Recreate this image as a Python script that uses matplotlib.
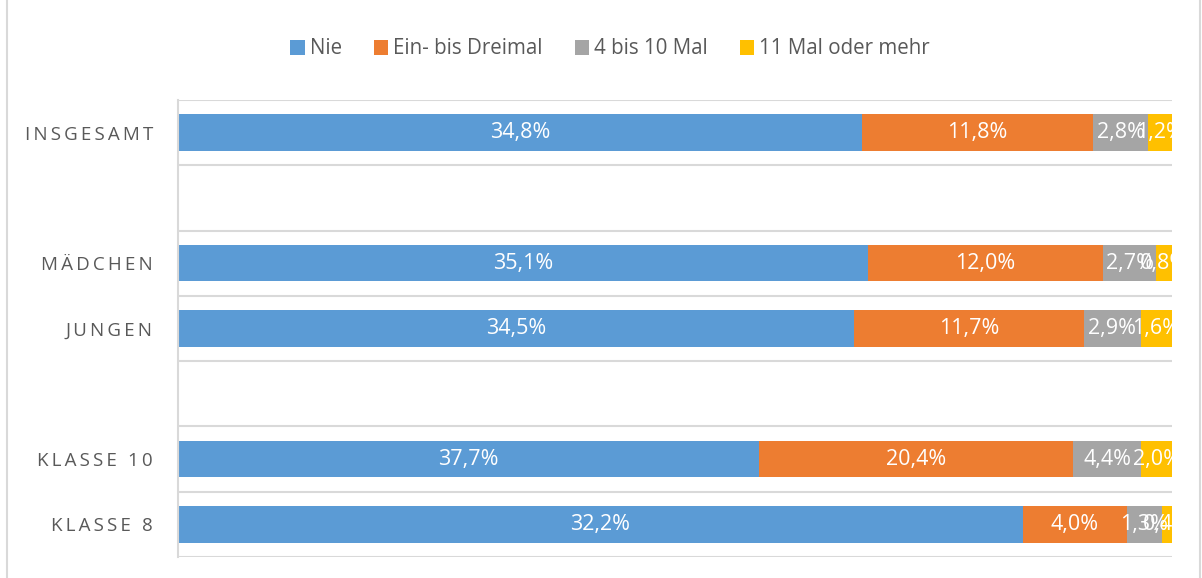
import numpy as np
import matplotlib
matplotlib.use("Agg")
import matplotlib.pyplot as plt
from matplotlib.patches import Patch
from matplotlib.lines import Line2D

categories = ["INSGESAMT", "", "MÄDCHEN", "JUNGEN", "", "KLASSE 10", "KLASSE 8"]
series_names = ["Nie", "Ein- bis Dreimal", "4 bis 10 Mal", "11 Mal oder mehr"]
nie = [34.8, np.nan, 35.1, 34.5, np.nan, 37.7, 32.2]
ein_bis_drei = [11.8, np.nan, 12.0, 11.7, np.nan, 20.4, 4.0]
vier_bis_zehn = [2.8, np.nan, 2.7, 2.9, np.nan, 4.4, 1.3]
elf_plus = [1.2, np.nan, 0.8, 1.6, np.nan, 2.0, 0.4]

colors = ["#5B9BD5", "#ED7D31", "#A5A5A5", "#FFC000"]
text_color = "#595959"
grid_color = "#D9D9D9"

plt.rcParams['font.family'] = ['Open Sans', 'DejaVu Sans']

W, H = 1202, 578
fig = plt.figure(figsize=(W / 100, H / 100), dpi=100)
ax = fig.add_axes([178 / W, 1 - 557 / H, (1172 - 178) / W, (557 - 100) / H])

data = np.array([nie, ein_bis_drei, vier_bis_zehn, elf_plus], dtype=float)
totals = np.nansum(data, axis=0)
y = np.arange(len(categories))
left = np.zeros(len(categories))
for i, (name, col) in enumerate(zip(series_names, colors)):
    vals = data[i]
    share = np.where(np.isnan(vals), 0, vals / np.where(totals == 0, 1, totals))
    ax.barh(y, share, left=left, height=0.56, color=col, label=name, zorder=2)
    for j in range(len(categories)):
        if not np.isnan(vals[j]):
            lbl = f"{vals[j]:.1f}%".replace(".", ",")
            ax.text(left[j] + share[j] / 2, y[j], lbl, ha="center", va="center",
                    color="white", fontsize=15.5, clip_on=True, zorder=3)
    left = left + share

ax.set_xlim(0, 1)
ax.set_ylim(len(categories) - 0.5, -0.5)
ax.set_xticks([])
ax.set_yticks(y)
spaced = ["\u2009".join(list(c)) for c in categories]
ax.set_yticklabels(spaced, color=text_color, fontsize=13.5)
ax.tick_params(axis="y", length=0, pad=18)
ax.set_yticks(np.arange(-0.5, len(categories), 1), minor=True)
ax.tick_params(axis="y", which="minor", length=0)
ax.grid(axis="y", which="minor", color=grid_color, linewidth=1.5, zorder=0)
for s in ["top", "right", "bottom"]:
    ax.spines[s].set_visible(False)
ax.spines["left"].set_color(grid_color)
ax.spines["left"].set_linewidth(1.5)

handles = [Patch(facecolor=c, edgecolor="none") for c in colors]
fig.legend(handles, series_names, loc="center", bbox_to_anchor=(610 / W, 1 - 49 / H),
           ncol=4, frameon=False, fontsize=14.8, labelcolor=text_color,
           handlelength=0.7, handleheight=0.7, handletextpad=0.25, columnspacing=1.55)

fig.add_artist(Line2D([7 / W, 7 / W], [0, 1], transform=fig.transFigure, color=grid_color, linewidth=1.5))
fig.add_artist(Line2D([1200 / W, 1200 / W], [0, 1], transform=fig.transFigure, color=grid_color, linewidth=1.5))

fig.savefig("out.png", dpi=100)
